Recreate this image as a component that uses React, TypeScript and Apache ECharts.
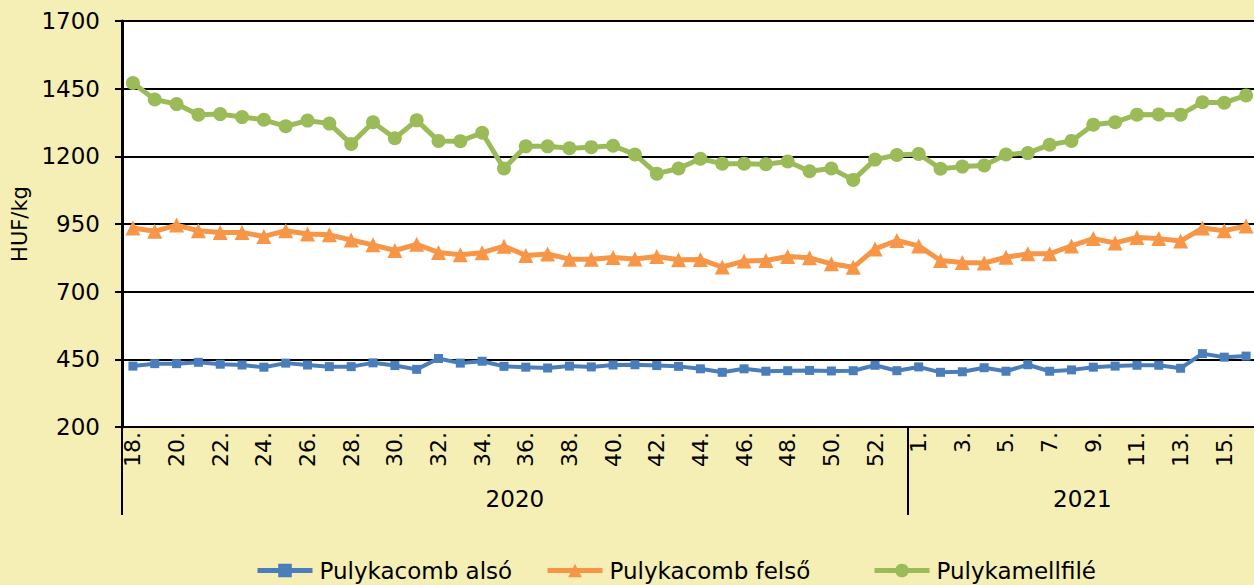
import React, { useEffect, useRef } from "react";
import * as echarts from "echarts";

const weeks2020 = ["18.", "19.", "20.", "21.", "22.", "23.", "24.", "25.", "26.", "27.", "28.", "29.", "30.", "31.", "32.", "33.", "34.", "35.", "36.", "37.", "38.", "39.", "40.", "41.", "42.", "43.", "44.", "45.", "46.", "47.", "48.", "49.", "50.", "51.", "52.", "53."];
const weeks2021 = ["1.", "2.", "3.", "4.", "5.", "6.", "7.", "8.", "9.", "10.", "11.", "12.", "13.", "14.", "15.", "16."];
const years = ["2020", "2021"];
const yTicks = [200, 450, 700, 950, 1200, 1450, 1700];
const seriesNames = ["Pulykacomb alsó", "Pulykacomb felső", "Pulykamellfilé"];

const pulykacombAlso = [425, 434, 434, 439, 432, 429, 421, 436, 429, 423, 423, 437, 427, 413, 453, 436, 443, 424, 421, 418, 425, 422, 429, 430, 427, 424, 415, 402, 415, 406, 408, 409, 407, 408, 428, 408, 422, 402, 404, 419, 406, 430, 406, 411, 421, 425, 428, 428, 417, 471, 458, 462];
const pulykacombFelso = [935, 923, 946, 925, 919, 919, 904, 925, 913, 910, 891, 873, 852, 875, 845, 836, 844, 868, 834, 839, 820, 820, 826, 821, 830, 818, 819, 791, 813, 815, 830, 825, 803, 790, 858, 889, 869, 815, 808, 806, 827, 840, 840, 869, 896, 880, 900, 896, 887, 935, 925, 943];
const pulykamellfile = [1471, 1410, 1393, 1354, 1356, 1345, 1335, 1311, 1332, 1321, 1246, 1326, 1267, 1333, 1257, 1256, 1287, 1155, 1237, 1237, 1230, 1234, 1239, 1207, 1136, 1155, 1191, 1173, 1173, 1171, 1181, 1145, 1155, 1113, 1188, 1205, 1209, 1154, 1162, 1166, 1207, 1212, 1243, 1257, 1317, 1326, 1354, 1355, 1354, 1400, 1398, 1425];

const FONT = "DejaVu Sans";
const legendLefts = [250, 540, 867];

export default function App() {
  const ref = useRef<HTMLDivElement>(null);
  useEffect(() => {
    if (!ref.current) return;
    const chart = echarts.init(ref.current, undefined, { renderer: "svg" });
    const categories = [...weeks2020, ...weeks2021];
    const n2020 = weeks2020.length;
    const nAll = categories.length;
    chart.setOption({
      animation: false,
      backgroundColor: "#F5EFB5",
      textStyle: { fontFamily: FONT, color: "#000" },
      grid: {
        left: 122,
        top: 21,
        width: 1135,
        height: 406,
        show: true,
        backgroundColor: "#ffffff",
        borderWidth: 0,
        containLabel: false,
        outerBoundsMode: "none",
      },
      legend: seriesNames.map((name, i) => ({
        left: legendLefts[i],
        top: 554,
        itemWidth: 55,
        itemHeight: 17,
        itemGap: 27,
        lineStyle: { width: 5 },
        textStyle: { fontFamily: FONT, fontSize: 23, color: "#000", padding: [0, 0, 0, 2] },
        data: [name],
      })),
      xAxis: [
        {
          type: "category",
          data: categories,
          boundaryGap: true,
          axisLine: { show: true, lineStyle: { color: "#000", width: 2 } },
          axisTick: { show: false },
          axisLabel: {
            interval: 1,
            rotate: 90,
            margin: 5,
            fontSize: 22,
            color: "#000",
            fontFamily: FONT,
          },
          splitLine: { show: false },
        },
        {
          type: "value",
          min: 0,
          max: nAll,
          position: "bottom",
          axisLine: { show: false },
          splitLine: { show: false },
          axisTick: {
            show: true,
            customValues: [0, n2020],
            length: 88,
            lineStyle: { color: "#000", width: 2 },
          },
          axisLabel: {
            customValues: [n2020 / 2, n2020 + (nAll - n2020) / 2],
            formatter: (v: number) => (v < n2020 ? years[0] : years[1]),
            margin: 60,
            fontSize: 23,
            color: "#000",
            fontFamily: FONT,
          },
        },
      ],
      yAxis: {
        type: "value",
        min: yTicks[0],
        max: yTicks[yTicks.length - 1],
        interval: yTicks[1] - yTicks[0],
        name: "HUF/kg",
        nameLocation: "middle",
        nameRotate: 90,
        nameGap: 92,
        nameTextStyle: { fontSize: 21, color: "#000", fontFamily: FONT },
        axisLine: { show: true, lineStyle: { color: "#000", width: 3 } },
        axisTick: { show: true, length: 7, lineStyle: { color: "#000", width: 2 } },
        axisLabel: {
          margin: 22,
          fontSize: 23,
          color: "#000",
          fontFamily: FONT,
          formatter: (v: number) => String(v),
        },
        splitLine: { show: true, lineStyle: { color: "#000", width: 2 } },
      },
      series: [
        {
          name: seriesNames[0],
          type: "line",
          data: pulykacombAlso,
          symbol: "rect",
          symbolSize: 9,
          showAllSymbol: true,
          color: "#4A7EBB",
          lineStyle: { width: 4, color: "#4A7EBB" },
          itemStyle: { color: "#4A7EBB" },
        },
        {
          name: seriesNames[1],
          type: "line",
          data: pulykacombFelso,
          symbol: "triangle",
          symbolSize: 15,
          showAllSymbol: true,
          color: "#F79646",
          lineStyle: { width: 5, color: "#F79646" },
          itemStyle: { color: "#F79646" },
        },
        {
          name: seriesNames[2],
          type: "line",
          data: pulykamellfile,
          symbol: "circle",
          symbolSize: 14,
          showAllSymbol: true,
          color: "#9BBB59",
          lineStyle: { width: 5, color: "#9BBB59" },
          itemStyle: { color: "#9BBB59" },
        },
      ],
    });
    return () => chart.dispose();
  }, []);
  return (
    <div
      ref={ref}
      style={{ position: "fixed", left: 0, top: 0, width: 1254, height: 585 }}
    />
  );
}
